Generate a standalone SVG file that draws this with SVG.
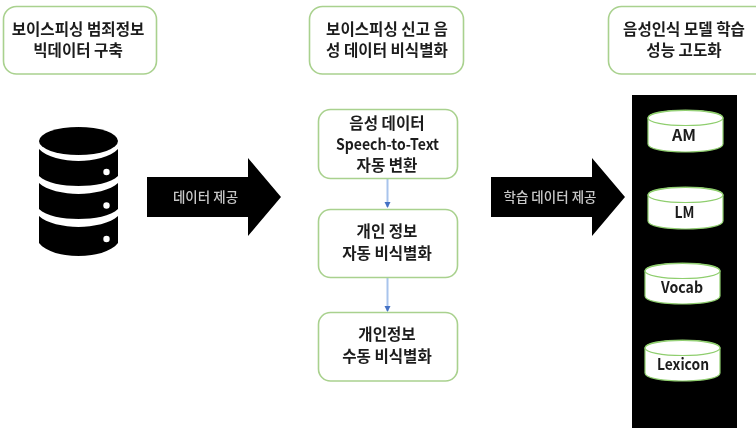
<svg xmlns="http://www.w3.org/2000/svg" width="756" height="428" viewBox="0 0 756 428">
<defs>
<marker id="ah" markerWidth="7" markerHeight="7" refX="5" refY="3" orient="auto" markerUnits="userSpaceOnUse"><path d="M0 0L6 3L0 6Z" fill="#4472c4"/></marker>
<filter id="soft" x="0" y="0" width="100%" height="100%" filterUnits="objectBoundingBox"><feGaussianBlur stdDeviation="0.45"/></filter>
</defs>
<style>
text{font-family:"Noto Sans CJK KR","Noto Sans",sans-serif;text-anchor:middle;font-weight:700;fill:#1c1c1c;font-size:15.600px}
.b{fill:#fff;stroke:#a9d18e;stroke-width:1.6}
.cy{fill:#fff;stroke:#8fce6e;stroke-width:1.2}
.w{fill:#c8c8c8;font-size:13.500px;font-weight:500}
.e{font-weight:700;font-size:15.500px}
.k{fill:#000}
</style>
<g filter="url(#soft)">
<rect width="756" height="428" fill="#fff"/>
<g id="connectors">
<path d="M387.500 178V207" stroke="#a9c4ec" stroke-width="2" fill="none" marker-end="url(#ah)"/>
<path d="M387.500 277V311" stroke="#a9c4ec" stroke-width="2" fill="none" marker-end="url(#ah)"/>
</g>
<g id="n1"><rect class="b" x="3.500" y="6.500" width="153" height="67.500" rx="13"/><text x="78" y="35">보이스피싱 범죄정보</text><text x="78" y="56">빅데이터 구축</text></g>
<g id="n2"><rect class="b" x="309.500" y="6.500" width="154" height="67.500" rx="13"/><text x="387" y="35">보이스피싱 신고 음</text><text x="387" y="56">성 데이터 비식별화</text></g>
<g id="n3"><rect class="b" x="608.500" y="6.500" width="160" height="67.500" rx="13"/><text x="684" y="35">음성인식 모델 학습</text><text x="684" y="56">성능 고도화</text></g>
<g id="db">
<ellipse class="k" cx="78.500" cy="141" rx="39.500" ry="14"/>
<path class="k" d="M39 149C46 157 64 161 78.500 161S111 157 118 149V176C111 183 94 186 78.500 186S46 183 39 176Z"/>
<path class="k" d="M39 183C46 190 64 194 78.500 194S111 190 118 183V209C111 216 94 219 78.500 219S46 216 39 209Z"/>
<path class="k" d="M39 216C46 223 64 227 78.500 227S111 223 118 216V243C111 252 94 256 78.500 256S46 252 39 243Z"/>
<circle cx="106.500" cy="172" r="3.200" fill="#fff"/><circle cx="106.500" cy="205.500" r="3.200" fill="#fff"/><circle cx="106.500" cy="239" r="3.200" fill="#fff"/>
</g>
<g id="a1"><path class="k" d="M147 177H248V158L281 197L248 236V217H147Z"/><text class="w" x="205.500" y="202">데이터 제공</text></g>
<g id="m1"><rect class="b" x="318.500" y="109.500" width="139" height="69" rx="12"/><text x="387" y="129">음성 데이터</text><text class="e" x="387.500" y="150" textLength="103" lengthAdjust="spacingAndGlyphs">Speech-to-Text</text><text x="387" y="171">자동 변환</text></g>
<g id="m2"><rect class="b" x="318.500" y="209.500" width="139" height="68" rx="12"/><text x="387" y="237">개인 정보</text><text x="387" y="259">자동 비식별화</text></g>
<g id="m3"><rect class="b" x="318.500" y="312.500" width="139" height="68.500" rx="12"/><text x="387" y="340">개인정보</text><text x="387" y="362">수동 비식별화</text></g>
<g id="a2"><path class="k" d="M491 177H592V158L625 197L592 236V217H491Z"/><text class="w" x="550" y="202">학습 데이터 제공</text></g>
<rect id="panel" class="k" x="632" y="95" width="105" height="333"/>
<g id="c1"><path class="cy" d="M648 118V144C648 149 665 152 685.500 152S723 149 723 144V118C723 113 706 110 685.500 110S648 113 648 118Z"/><ellipse class="cy" cx="685.500" cy="118" rx="37.500" ry="7.500"/><text class="e" x="684" y="140.500" textLength="24" lengthAdjust="spacingAndGlyphs">AM</text></g>
<g id="c2"><path class="cy" d="M648 195V221C648 226 665 229 685.500 229S723 226 723 221V195C723 190 706 187 685.500 187S648 190 648 195Z"/><ellipse class="cy" cx="685.500" cy="195" rx="37.500" ry="7.500"/><text class="e" x="684.500" y="218" textLength="20" lengthAdjust="spacingAndGlyphs">LM</text></g>
<g id="c3"><path class="cy" d="M645 271V296C645 301 662 304 682.500 304S720 301 720 296V271C720 266 703 263 682.500 263S645 266 645 271Z"/><ellipse class="cy" cx="682.500" cy="271" rx="37.500" ry="7.500"/><text class="e" x="682" y="293" textLength="42" lengthAdjust="spacingAndGlyphs">Vocab</text></g>
<g id="c4"><path class="cy" d="M645 348V373C645 378 662 381 682.500 381S720 378 720 373V348C720 343 703 340 682.500 340S645 343 645 348Z"/><ellipse class="cy" cx="682.500" cy="348" rx="37.500" ry="7.500"/><text class="e" x="683" y="370" textLength="52" lengthAdjust="spacingAndGlyphs">Lexicon</text></g>
</g>
</svg>
